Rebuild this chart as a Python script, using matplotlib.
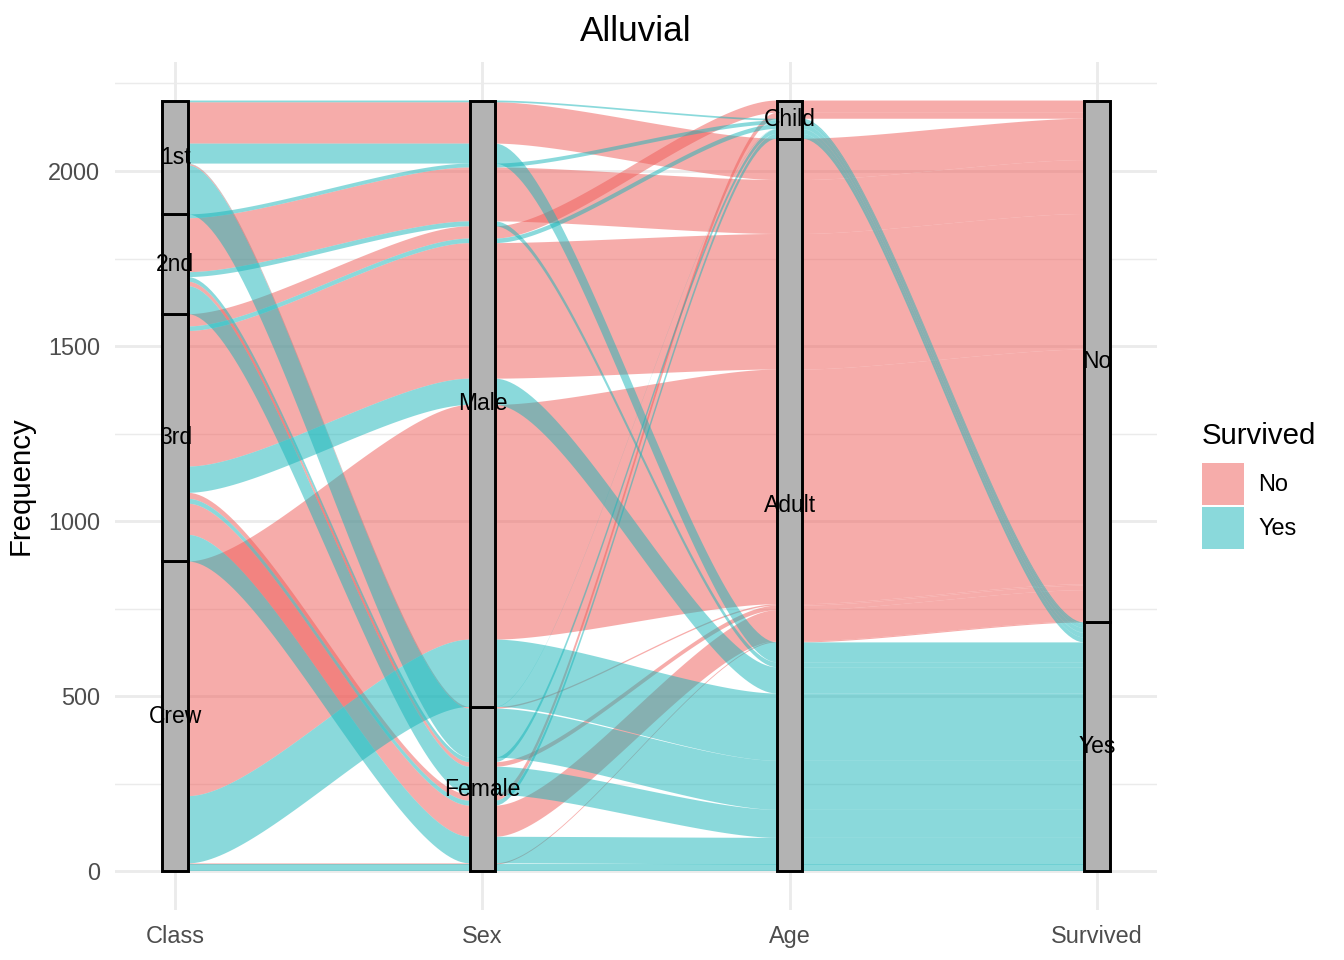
import numpy as np
import matplotlib
matplotlib.use('Agg')
import matplotlib.pyplot as plt
from matplotlib.patches import Patch

plt.rcParams['font.family'] = ['Liberation Sans', 'DejaVu Sans']

# Titanic counts, one list per (Survived, Age, Sex), over the classes
axis_names = ['Class', 'Sex', 'Age', 'Survived']
classes = ['1st', '2nd', '3rd', 'Crew']
sexes = ['Male', 'Female']
ages = ['Child', 'Adult']
survived = ['No', 'Yes']

no_child_male = [0, 0, 35, 0]
no_child_female = [0, 0, 17, 0]
no_adult_male = [118, 154, 387, 670]
no_adult_female = [4, 13, 89, 3]
yes_child_male = [5, 11, 13, 0]
yes_child_female = [1, 13, 14, 0]
yes_adult_male = [57, 14, 75, 192]
yes_adult_female = [140, 80, 76, 20]

counts = {
    ('No', 'Child', 'Male'): no_child_male,
    ('No', 'Child', 'Female'): no_child_female,
    ('No', 'Adult', 'Male'): no_adult_male,
    ('No', 'Adult', 'Female'): no_adult_female,
    ('Yes', 'Child', 'Male'): yes_child_male,
    ('Yes', 'Child', 'Female'): yes_child_female,
    ('Yes', 'Adult', 'Male'): yes_adult_male,
    ('Yes', 'Adult', 'Female'): yes_adult_female,
}

levels = [classes, sexes, ages, survived]
fill_cols = {'No': '#EF5B57', 'Yes': '#17B5B9'}
alpha = 0.5

# alluvia: level indices on each axis + frequency
rows = []
for (sv, ag, sx), vals in counts.items():
    for ci, n in enumerate(vals):
        if n > 0:
            rows.append(((ci, sexes.index(sx), ages.index(ag), survived.index(sv)), n))

n_ax = len(axis_names)

def zigzag(n, i):
    # other axes, nearest first, starting toward the nearer end
    near_left = i <= n - 1 - i
    others = [j for j in range(n) if j != i]
    return [i] + sorted(others, key=lambda j: (abs(j - i), 0 if ((j < i) == near_left) else 1))

def deposit(ax_i, k):
    # reversed: first level on top
    return len(levels[ax_i]) - 1 - k

# lode positions at every axis
lo = np.zeros((len(rows), n_ax))
hi = np.zeros((len(rows), n_ax))
for i in range(n_ax):
    zz = zigzag(n_ax, i)
    order = sorted(range(len(rows)), key=lambda r: tuple(deposit(a, rows[r][0][a]) for a in zz))
    y = 0
    for r in order:
        lo[r, i] = y
        y += rows[r][1]
        hi[r, i] = y

w = 1 / 12
xpos = np.arange(1, n_ax + 1)
t = np.linspace(0, 1, 60)

def bez(x0, x1, y0, y1):
    span = x1 - x0
    c = [x0, x0 + span / 4, x1 - span / 4, x1]
    bx = (1 - t) ** 3 * c[0] + 3 * t * (1 - t) ** 2 * c[1] + 3 * t ** 2 * (1 - t) * c[2] + t ** 3 * c[3]
    by = y0 + (y1 - y0) * (3 * t ** 2 - 2 * t ** 3)
    return bx, by

fig = plt.figure(figsize=(7, 5), dpi=192)
ax = fig.add_axes([115 / 1344, 50 / 960, 1042 / 1344, 848 / 960])

for r, (idx, n) in enumerate(rows):
    xt, yt, xb, yb = [], [], [], []
    for i in range(n_ax):
        xt += [xpos[i] - w / 2, xpos[i] + w / 2]
        yt += [hi[r, i], hi[r, i]]
        xb += [xpos[i] - w / 2, xpos[i] + w / 2]
        yb += [lo[r, i], lo[r, i]]
        if i < n_ax - 1:
            cx, cy = bez(xpos[i] + w / 2, xpos[i + 1] - w / 2, hi[r, i], hi[r, i + 1])
            xt += list(cx); yt += list(cy)
            cx, cy = bez(xpos[i] + w / 2, xpos[i + 1] - w / 2, lo[r, i], lo[r, i + 1])
            xb += list(cx); yb += list(cy)
    px = xt + xb[::-1]
    py = yt + yb[::-1]
    ax.fill(px, py, color=fill_cols[survived[idx[3]]], alpha=alpha, lw=0, zorder=2)

# strata
for i in range(n_ax):
    tot = {}
    for idx, n in rows:
        tot[idx[i]] = tot.get(idx[i], 0) + n
    y = 0
    for k in sorted(tot, key=lambda k: deposit(i, k)):
        ax.bar(xpos[i], tot[k], bottom=y, width=w, color='#B3B3B3',
               edgecolor='black', linewidth=1.1, zorder=3)
        ax.text(xpos[i], y + tot[k] / 2, levels[i][k], ha='center', va='center',
                fontsize=8.6, color='black', zorder=4)
        y += tot[k]

ax.set_xlim(0.804, 4.196)
ax.set_ylim(-110, 2311)
ax.set_xticks(xpos)
ax.set_xticklabels(axis_names)
ax.set_yticks([0, 500, 1000, 1500, 2000])
ax.set_yticks([250, 750, 1250, 1750, 2250], minor=True)
ax.tick_params(which='both', length=0, labelsize=8.8, labelcolor='#4D4D4D', pad=5.5)
ax.grid(which='major', color='#EBEBEB', linewidth=1.07)
ax.grid(which='minor', axis='y', color='#EBEBEB', linewidth=0.53)
ax.set_axisbelow(True)
for s in ax.spines.values():
    s.set_visible(False)
ax.set_ylabel('Frequency', fontsize=11, labelpad=5)
ax.set_title('Alluvial', fontsize=13.2, pad=8)

handles = [Patch(facecolor=fill_cols[s], alpha=alpha, edgecolor='none', label=s) for s in survived]
leg = fig.legend(handles=handles, title='Survived', loc='upper left', bbox_to_anchor=(1181 / 1344, 0.582),
                 frameon=False, fontsize=8.8, title_fontsize=11, handlelength=1.8, handleheight=2.35,
                 labelspacing=0.1, handletextpad=0.6, alignment='left')
leg._legend_box.sep = 4.8

fig.savefig('out.png', dpi=192)
